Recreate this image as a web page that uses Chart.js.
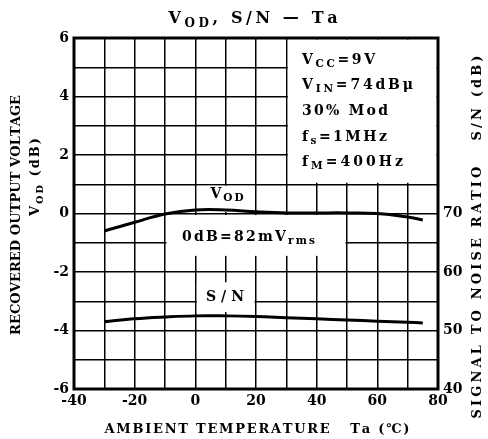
<!DOCTYPE html>
<html>
<head>
<meta charset="utf-8">
<script src="https://cdn.jsdelivr.net/npm/chart.js@4.4.1/dist/chart.umd.min.js"></script>
<style>
  html, body { margin: 0; padding: 0; background: #fff; }
  canvas { display: block; }
</style>
</head>
<body>
<canvas id="chart" width="488" height="439"></canvas>
<script>
// Data
const temps = [-30, -20, -10, 0, 10, 20, 30, 40, 50, 60, 70, 75];
const vodValues = [-0.6, -0.3, -0.02, 0.12, 0.12, 0.06, 0.02, 0.02, 0.02, 0, -0.12, -0.22];
const snValues = [51.5, 52.0, 52.3, 52.5, 52.5, 52.4, 52.2, 52.0, 51.8, 51.6, 51.4, 51.3];

const xTicks = [-40, -20, 0, 20, 40, 60, 80];
const vodTicks = [-6, -4, -2, 0, 2, 4, 6];
const snTicks = [40, 50, 60, 70];

const FONT = '"DejaVu Serif", "Liberation Serif", serif';

// Draw a run of text parts (some subscript) char by char with spacing
function measureParts(ctx, parts, size) {
    let w = 0, n = 0;
    parts.forEach(p => {
        const s = p.sub ? size * 0.75 : size;
        ctx.font = 'bold ' + s + 'px ' + FONT;
        for (const ch of p.t) { w += ctx.measureText(ch).width; n++; }
    });
    return { w, n };
}

function drawParts(ctx, parts, x, y, opts) {
    const size = opts.size;
    let spacing = opts.spacing || 0;
    const m = measureParts(ctx, parts, size);
    if (opts.width) spacing = (opts.width - m.w) / (m.n - 1);
    const total = m.w + spacing * (m.n - 1);
    ctx.save();
    ctx.translate(x, y);
    if (opts.rotate) ctx.rotate(opts.rotate);
    ctx.fillStyle = '#000';
    ctx.textBaseline = 'middle';
    ctx.textAlign = 'left';
    let cx = opts.align === 'left' ? 0 : -total / 2;
    parts.forEach(p => {
        const s = p.sub ? size * 0.75 : size;
        ctx.font = 'bold ' + s + 'px ' + FONT;
        const dy = p.sub ? size * 0.32 : 0;
        for (const ch of p.t) {
            ctx.fillText(ch, cx, dy);
            cx += ctx.measureText(ch).width + spacing;
        }
    });
    ctx.restore();
}

// White boxes where the grid is left out (value coordinates)
const blankBoxes = [
    { x0: 30, x1: 80, y0: 1, y1: 6 },
    { x0: 0, x1: 20, y0: 0, y1: 1 },
    { x0: -10, x1: 50, y0: -1.5, y1: 0 },
    { x0: 0, x1: 20, y0: -3.42, y1: -2.3 }
];

const chartDecor = {
    id: 'chartDecor',
    beforeDatasetsDraw(chart) {
        const ctx = chart.ctx;
        const xs = chart.scales.x, ys = chart.scales.y;
        ctx.save();
        ctx.fillStyle = '#fff';
        blankBoxes.forEach(b => {
            const l = xs.getPixelForValue(b.x0) + 1.5;
            const r = xs.getPixelForValue(b.x1) - 1.5;
            const t = ys.getPixelForValue(b.y1) + 1.5;
            const bt = ys.getPixelForValue(b.y0) - 1.5;
            ctx.fillRect(l, t, r - l, bt - t);
        });
        ctx.restore();
    },
    afterDraw(chart) {
        const ctx = chart.ctx;
        const a = chart.chartArea;
        ctx.save();
        ctx.strokeStyle = '#000';
        ctx.lineWidth = 3;
        ctx.strokeRect(a.left, a.top, a.right - a.left, a.bottom - a.top);
        ctx.restore();

        // title
        drawParts(ctx, [{ t: 'V' }, { t: 'OD', sub: true }, { t: ', S/N — Ta' }], 253, 19, { size: 16, width: 169 });
        // axis titles
        drawParts(ctx, [{ t: 'RECOVERED OUTPUT VOLTAGE' }], 17, 215, { size: 13, width: 240, rotate: -Math.PI / 2 });
        drawParts(ctx, [{ t: 'V' }, { t: 'OD', sub: true }, { t: ' (dB)' }], 36, 177, { size: 13, spacing: 2, rotate: -Math.PI / 2 });
        drawParts(ctx, [{ t: 'SIGNAL TO NOISE RATIO   S/N (dB)' }], 478, 237, { size: 13, width: 363, rotate: -Math.PI / 2 });
        drawParts(ctx, [{ t: 'AMBIENT TEMPERATURE   Ta (℃)' }], 257, 430, { size: 13, width: 305 });

        // conditions box
        const lx = 302;
        drawParts(ctx, [{ t: 'V' }, { t: 'CC', sub: true }, { t: '=9V' }], lx, 60, { size: 14, width: 73, align: 'left' });
        drawParts(ctx, [{ t: 'V' }, { t: 'IN', sub: true }, { t: '=74dBμ' }], lx, 85, { size: 14, width: 111, align: 'left' });
        drawParts(ctx, [{ t: '30% Mod' }], lx, 111, { size: 14, width: 86, align: 'left' });
        drawParts(ctx, [{ t: 'f' }, { t: 's', sub: true }, { t: '=1MHz' }], lx, 137, { size: 14, width: 85, align: 'left' });
        drawParts(ctx, [{ t: 'f' }, { t: 'M', sub: true }, { t: '=400Hz' }], lx, 162, { size: 14, width: 101, align: 'left' });

        // curve labels
        drawParts(ctx, [{ t: 'V' }, { t: 'OD', sub: true }], 227, 194, { size: 14, width: 33 });
        drawParts(ctx, [{ t: '0dB=82mV' }, { t: 'rms', sub: true }], 182, 237, { size: 14, width: 133, align: 'left' });
        drawParts(ctx, [{ t: 'S/N' }], 225, 297, { size: 14, width: 38 });
    }
};

const tickFont = { family: FONT, size: 14, weight: 'bold' };

new Chart(document.getElementById('chart'), {
    type: 'line',
    data: {
        datasets: [
            {
                label: 'VOD',
                data: temps.map((t, i) => ({ x: t, y: vodValues[i] })),
                yAxisID: 'y',
                borderColor: '#000',
                borderWidth: 3,
                pointRadius: 0,
                tension: 0.4,
                fill: false
            },
            {
                label: 'S/N',
                data: temps.map((t, i) => ({ x: t, y: snValues[i] })),
                yAxisID: 'y2',
                borderColor: '#000',
                borderWidth: 3,
                pointRadius: 0,
                tension: 0.4,
                fill: false
            }
        ]
    },
    options: {
        responsive: false,
        devicePixelRatio: 1,
        animation: false,
        layout: { padding: { top: 38, left: 0, right: 0, bottom: 0 } },
        plugins: { legend: { display: false }, tooltip: { enabled: false }, title: { display: false } },
        scales: {
            x: {
                type: 'linear',
                min: -40,
                max: 80,
                afterFit: s => { s.height = 50; },
                grid: { color: '#000', lineWidth: 1.5, drawTicks: false },
                border: { display: false },
                ticks: {
                    stepSize: 10,
                    padding: 4,
                    color: '#000',
                    font: tickFont,
                    maxRotation: 0,
                    autoSkip: false,
                    callback: v => xTicks.includes(v) ? String(v) : ''
                }
            },
            y: {
                position: 'left',
                min: -6,
                max: 6,
                afterFit: s => { s.width = 74; },
                grid: { color: '#000', lineWidth: 1.5, drawTicks: false },
                border: { display: false },
                ticks: {
                    stepSize: 1,
                    padding: 5,
                    color: '#000',
                    font: tickFont,
                    autoSkip: false,
                    callback: v => vodTicks.includes(v) ? String(v) : ''
                }
            },
            y2: {
                position: 'right',
                min: 40,
                max: 100,
                afterFit: s => { s.width = 50; },
                grid: { display: false, drawTicks: false },
                border: { display: false },
                ticks: {
                    stepSize: 5,
                    padding: 5,
                    color: '#000',
                    font: tickFont,
                    autoSkip: false,
                    callback: v => snTicks.includes(v) ? String(v) : ''
                }
            }
        }
    },
    plugins: [chartDecor]
});
</script>
</body>
</html>
